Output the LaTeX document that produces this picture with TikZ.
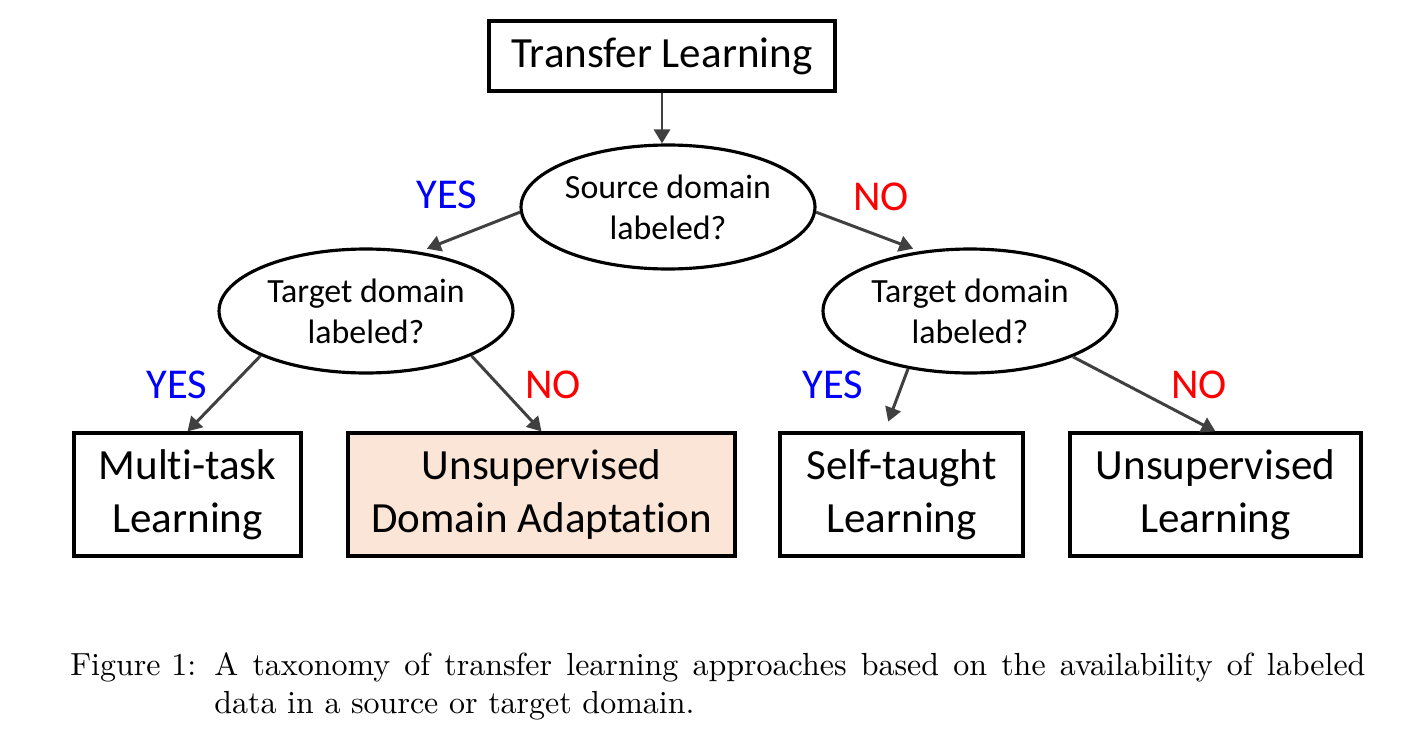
\documentclass[tikz,border=0pt]{standalone}
\usepackage{fontspec}
\newfontfamily\carlito[Ligatures=NoCommon]{Carlito}
\usepackage{tikz}
\usetikzlibrary{shapes.geometric, arrows.meta, positioning, calc}
\definecolor{peach}{HTML}{FBE5D6}
\definecolor{arrgray}{HTML}{404040}

\begin{document}
\begin{tikzpicture}[x=0.02cm, y=-0.02cm,
    box/.style={draw, line width=1.8pt, align=center, inner sep=0pt, font=\carlito\fontsize{24.5}{30}\selectfont},
    question/.style={draw, ellipse, line width=1.8pt, align=center, inner sep=0pt, minimum width=5.88cm, minimum height=2.48cm, font=\carlito\fontsize{19.3}{23.5}\selectfont},
    arr/.style={-{Triangle[length=0.28cm, width=0.32cm]}, line width=1.7pt, arrgray},
    yeslbl/.style={font=\carlito\fontsize{24.2}{29}\selectfont, text=blue},
    nolbl/.style={font=\carlito\fontsize{24.2}{29}\selectfont, text=red},
    capt/.style={anchor=base west, inner sep=0pt, font=\fontsize{10}{12}\selectfont}]
    \useasboundingbox (0,0) rectangle (1421,747);

    % root and questions
    \node[box, minimum width=6.92cm, minimum height=1.4cm] (transfer) at (662,56) {Transfer Learning};
    \node[question] (srcq) at (668,207) {Source domain\\labeled?};
    \node[question] (tgtl) at (366,311) {Target domain\\labeled?};
    \node[question] (tgtr) at (970,311) {Target domain\\labeled?};

    % leaves
    \node[box, minimum width=4.54cm, minimum height=2.46cm] (multitask) at (187.5,494.5) {Multi-task\\Learning};
    \node[box, fill=peach, minimum width=7.74cm, minimum height=2.46cm] (uda) at (541.5,494.5) {Unsupervised\\Domain Adaptation};
    \node[box, minimum width=4.86cm, minimum height=2.46cm] (selftaught) at (901.5,494.5) {Self-taught\\Learning};
    \node[box, minimum width=5.82cm, minimum height=2.46cm] (unsup) at (1215.5,494.5) {Unsupervised\\Learning};

    % connectors
    \draw[arr] (transfer.south) -- (transfer.south |- srcq.north);
    \draw[arr, shorten >=0.16cm] (srcq.182) -- (tgtl.48);
    \draw[arr, shorten >=0.14cm] (srcq.358) -- (tgtr.130);
    \draw[arr] (tgtl.203) -- (multitask.north);
    \draw[arr] (tgtl.337) -- (uda.north);
    \draw[arr, shorten >=0.21cm] (tgtr.223) -- ($(selftaught.north)+(-17,0)$);
    \draw[arr] (tgtr.336) -- (unsup.north);

    % answers
    \node[yeslbl] (yes1) at (447,195) {YES};
    \node[nolbl] (no1) at (881,197) {NO};
    \node[yeslbl] (yes2) at (177,385) {YES};
    \node[nolbl] (no2) at (553,385) {NO};
    \node[yeslbl] (yes3) at (833,385) {YES};
    \node[nolbl] (no3) at (1199,385) {NO};

    % caption
    \node[capt] (figlbl) at (70,675) {\scalebox{1.82}{Figure 1:}};
    \node[capt] (capline1) at (214,675) {\scalebox{1.82}{\makebox[360pt][s]{A taxonomy of transfer learning approaches based on the availability of labeled}}};
    \node[capt] (capline2) at (214,713) {\scalebox{1.82}{data in a source or target domain.}};
\end{tikzpicture}
\end{document}
